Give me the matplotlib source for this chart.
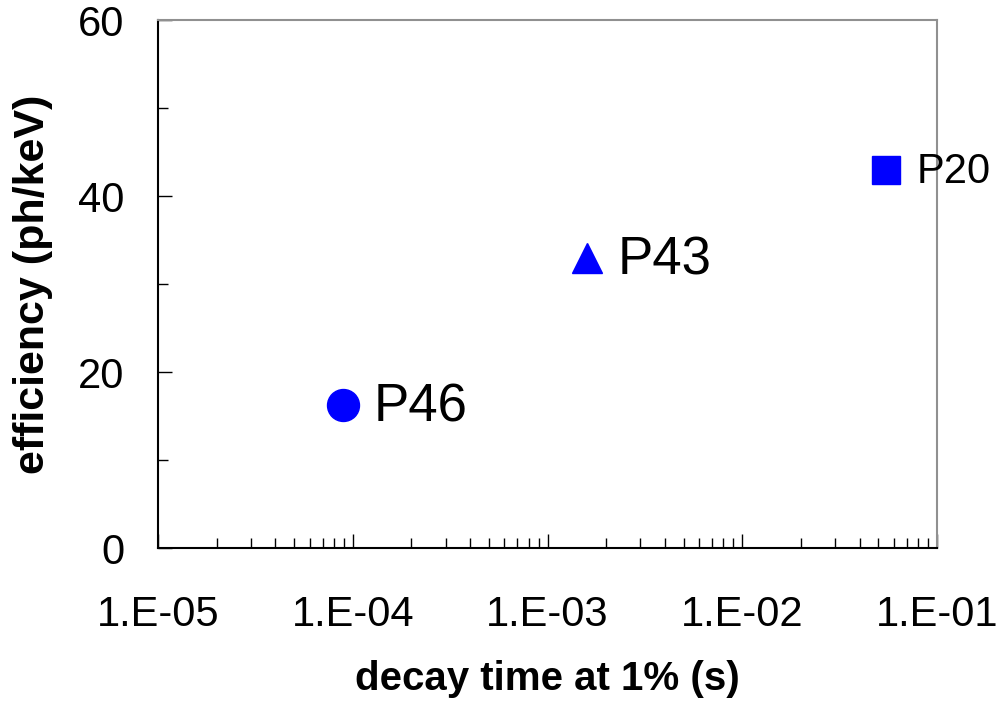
import matplotlib.pyplot as plt
from matplotlib.ticker import FixedLocator, LogLocator, NullFormatter

plt.rcParams['font.family'] = ['Liberation Sans', 'DejaVu Sans']

# data
names = ["P46", "P43", "P20"]
decay = [8.9e-5, 1.6e-3, 5.5e-2]
eff = [16.3, 33.0, 43.0]
markers = ["o", "^", "s"]
msizes = [23, 21, 20]
label_sizes = [38, 38, 30]
xticks = [1e-5, 1e-4, 1e-3, 1e-2, 1e-1]
xticklabels = ["1.E-05", "1.E-04", "1.E-03", "1.E-02", "1.E-01"]
yticks = [0, 20, 40, 60]

fig = plt.figure(figsize=(9.98, 7.13), dpi=100)
ax = fig.add_axes([158 / 998, 1 - 548 / 713, (937 - 158) / 998, (548 - 20) / 713])

for x, y, m, ms, nm, fs in zip(decay, eff, markers, msizes, names, label_sizes):
    ax.plot([x], [y], marker=m, color="#0000ff", markersize=ms, linestyle="none",
            clip_on=False)
    ax.annotate(nm, (x, y), xytext=(22, -2), textcoords="offset points",
                fontsize=fs, va="center", ha="left", annotation_clip=False)

ax.set_xscale("log")
ax.set_xlim(1e-5, 1e-1)
ax.set_ylim(0, 60)
ax.set_xticks(xticks)
ax.set_xticklabels(xticklabels)
ax.xaxis.set_minor_locator(LogLocator(base=10, subs=range(2, 10)))
ax.xaxis.set_minor_formatter(NullFormatter())
ax.set_yticks(yticks)
ax.yaxis.set_minor_locator(FixedLocator([10, 30, 50]))

ax.tick_params(axis="both", which="major", direction="in", length=10, width=1,
               labelsize=30, color="black")
ax.tick_params(axis="both", which="minor", direction="in", length=7, width=1,
               color="black")
ax.tick_params(axis="x", which="major", pad=34)
ax.tick_params(axis="y", which="major", pad=24)

for s in ["left", "bottom"]:
    ax.spines[s].set_color("black")
    ax.spines[s].set_linewidth(1.5)
for s in ["top", "right"]:
    ax.spines[s].set_color("#909090")
    ax.spines[s].set_linewidth(1.5)

ax.set_xlabel("decay time at 1% (s)", fontsize=29, fontweight="bold", labelpad=18)
ax.set_ylabel("efficiency (ph/keV)", fontsize=31, fontweight="bold", labelpad=18)

fig.savefig("out.png", dpi=100)
